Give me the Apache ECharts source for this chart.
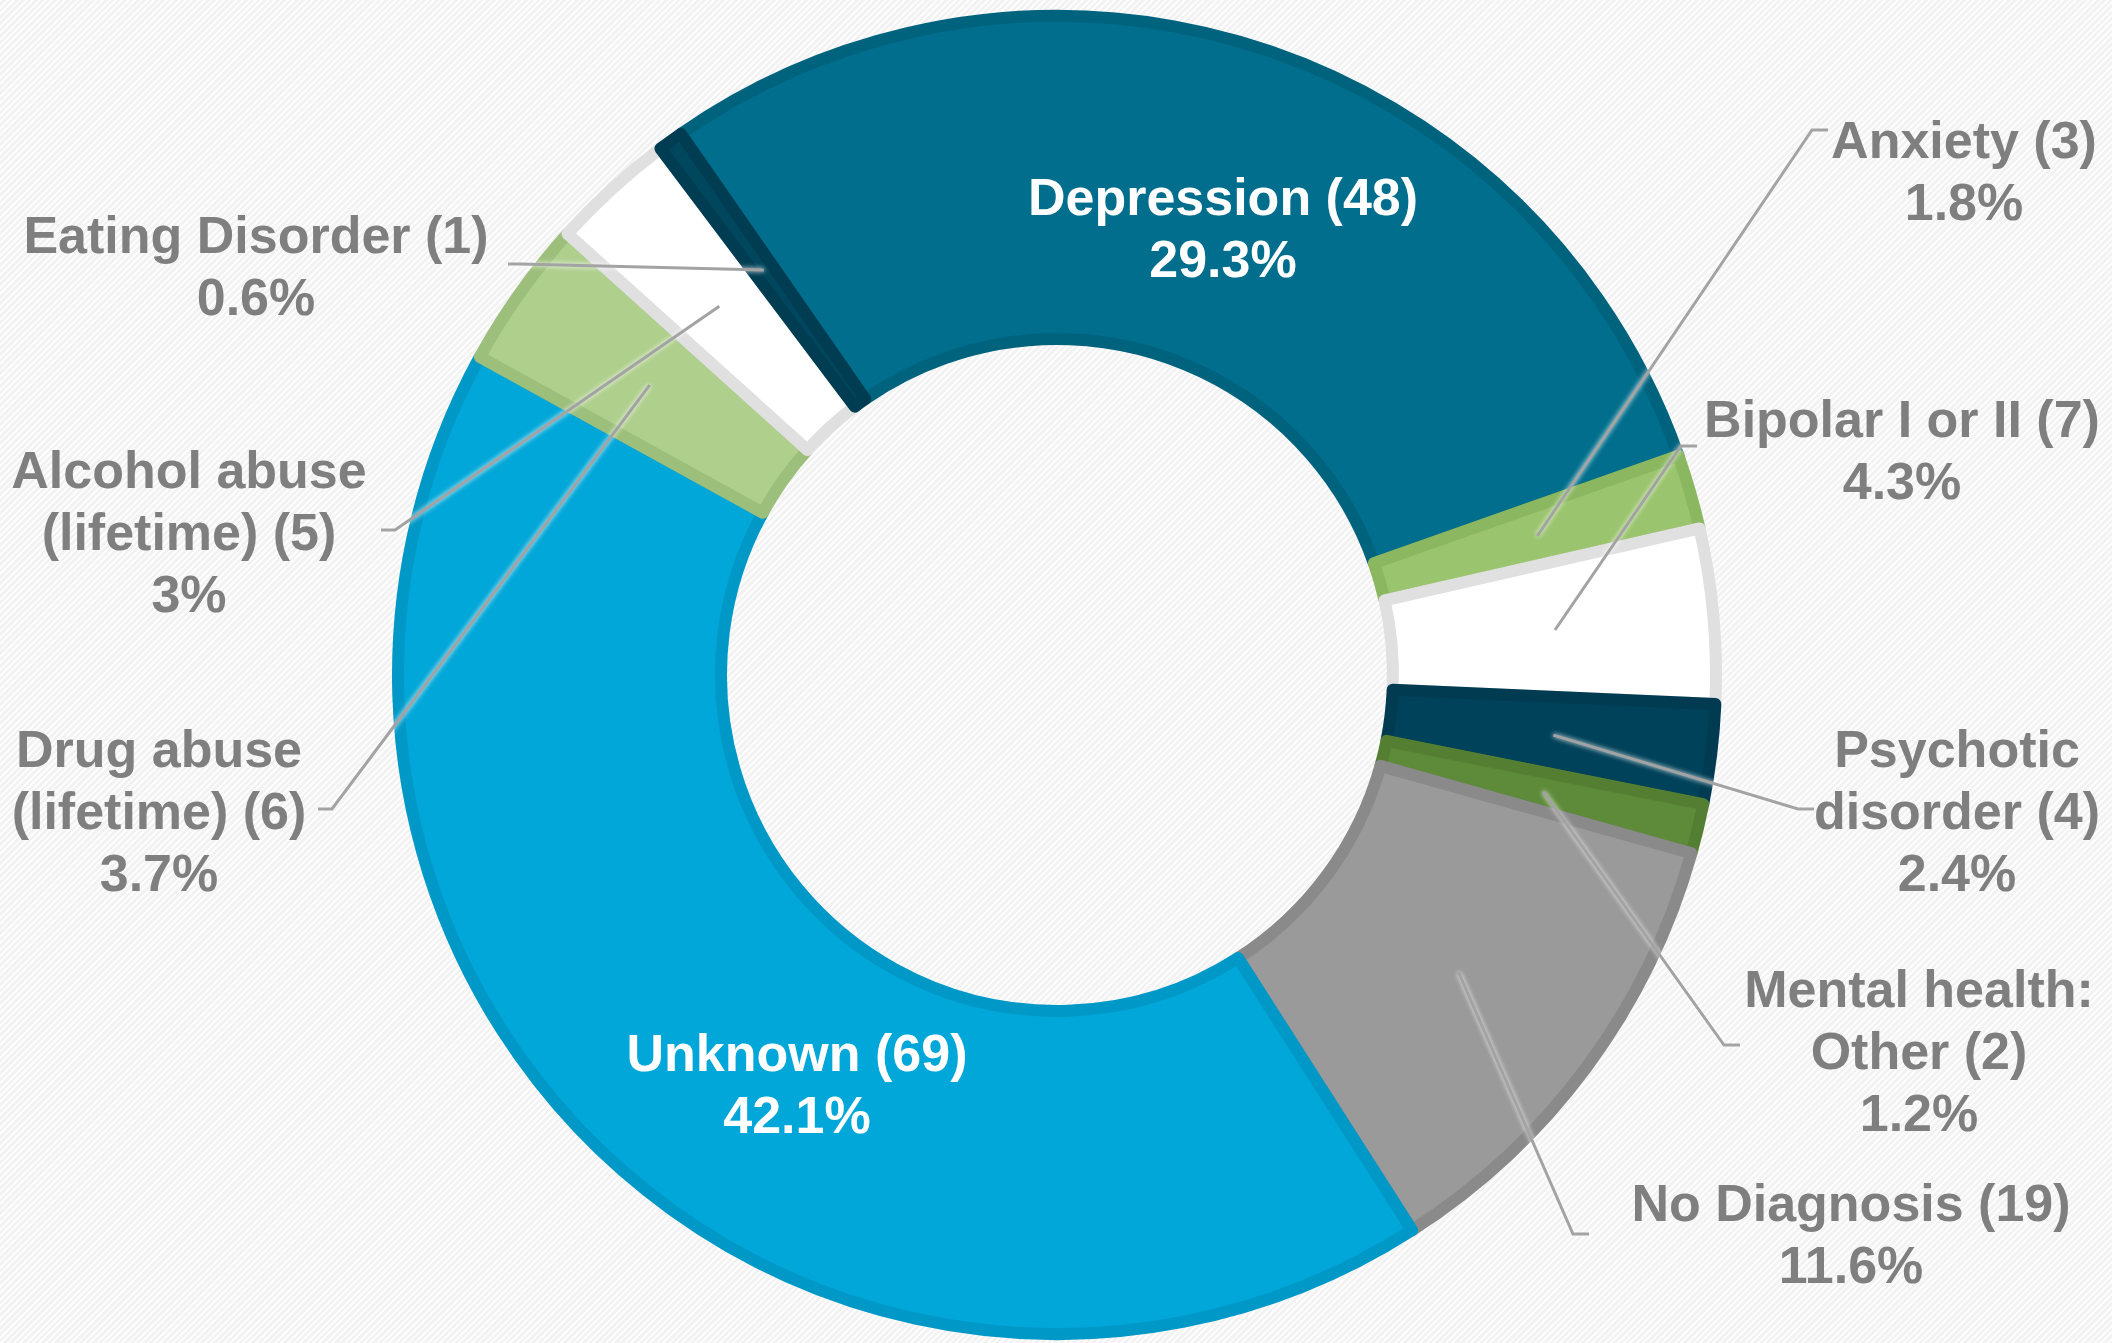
<!DOCTYPE html>
<html>
<head>
<meta charset="utf-8">
<script src="https://cdn.jsdelivr.net/npm/echarts@6/dist/echarts.min.js"></script>
<style>
  html, body { margin: 0; padding: 0; width: 2112px; height: 1343px; overflow: hidden; }
  body { background: repeating-linear-gradient(135deg, #fdfdfd 0px, #fdfdfd 2px, #f2f2f2 2px, #f2f2f2 4.5px); }
  #chart { width: 2112px; height: 1343px; }
</style>
</head>
<body>
<div id="chart"></div>
<script>
// Diagnosis categories (line breaks where the label wraps) and patient counts
const categories = [
  'Depression',
  'Anxiety',
  'Bipolar I or II',
  'Psychotic\ndisorder',
  'Mental health:\nOther',
  'No Diagnosis',
  'Unknown',
  'Drug abuse\n(lifetime)',
  'Alcohol abuse\n(lifetime)',
  'Eating Disorder'
];
const counts = [48, 3, 7, 4, 2, 19, 69, 6, 5, 1];

// Slice fills and their slightly darker edges
const fillColors = ['#006E8C', '#9BC46E', '#FFFFFF', '#00425A', '#5E8B3A', '#9A9A9A', '#00A7D8', '#AFCF8D', '#FFFFFF', '#00475E'];
const edgeColors = ['#00637E', '#8AB760', '#E0E0E0', '#003B51', '#547F33', '#8A8A8A', '#0099C7', '#9DBF7C', '#E0E0E0', '#003D52'];

// Labels drawn inside the ring (white text, no leader)
const insideLabels = [0, 6];

// Ring geometry
const CENTER = [1057, 675];
const INNER_R = 336;
const OUTER_R = 659;
const LEADER_R = 500;   // leaders start halfway across the ring
const EDGE_W = 12;

// Label placement: text block centre, leader elbow and tip
const labelSpots = [
  { x: 1223, y: 232 },
  { x: 1964, y: 175, elbow: [1812, 130], tip: [1828, 130] },
  { x: 1902, y: 454, elbow: [1681, 446], tip: [1697, 446] },
  { x: 1957, y: 815, elbow: [1798, 809], tip: [1814, 809] },
  { x: 1919, y: 1055, elbow: [1724, 1045], tip: [1740, 1045] },
  { x: 1851, y: 1238, elbow: [1573, 1234], tip: [1589, 1234] },
  { x: 797, y: 1088 },
  { x: 159, y: 815, elbow: [332, 809], tip: [318, 809] },
  { x: 189, y: 536, elbow: [395, 530], tip: [381, 530] },
  { x: 256, y: 270, elbow: [520, 264], tip: [508, 264] }
];

const FONT = '"Liberation Sans", Arial, Helvetica, sans-serif';

const ringData = categories.map((name, i) => ({
  name: name,
  value: counts[i],
  itemStyle: { color: fillColors[i], borderColor: edgeColors[i], borderWidth: EDGE_W }
}));

const labelData = categories.map((name, i) => {
  const inside = insideLabels.indexOf(i) >= 0;
  return {
    name: name,
    value: counts[i],
    label: { color: inside ? '#FFFFFF' : '#7F7F7F' },
    labelLine: { show: !inside }
  };
});

const chart = echarts.init(document.getElementById('chart'), null, { renderer: 'canvas' });

chart.setOption({
  animation: false,
  backgroundColor: 'transparent',
  series: [
    {
      type: 'pie',
      silent: true,
      center: CENTER,
      radius: [INNER_R, OUTER_R],
      startAngle: 124.8,
      clockwise: true,
      label: { show: false },
      labelLine: { show: false },
      emphasis: { disabled: true },
      data: ringData,
      z: 2
    },
    {
      // transparent twin that carries the labels and leader lines
      type: 'pie',
      silent: true,
      center: CENTER,
      radius: [INNER_R, LEADER_R],
      startAngle: 124.8,
      clockwise: true,
      percentPrecision: 1,
      avoidLabelOverlap: false,
      itemStyle: { color: 'rgba(0,0,0,0)', borderWidth: 0 },
      emphasis: { disabled: true },
      label: {
        show: true,
        position: 'outside',
        fontFamily: FONT,
        fontWeight: 'bold',
        fontSize: 52,
        lineHeight: 62,
        align: 'center',
        formatter: p => p.name + ' (' + p.value + ')\n' + p.percent + '%'
      },
      labelLine: {
        show: true,
        length: 10,
        length2: 10,
        lineStyle: {
          color: '#A3A3A3',
          width: 3,
          shadowColor: 'rgba(255,255,255,0.95)',
          shadowBlur: 5
        }
      },
      labelLayout: function (p) {
        const s = labelSpots[p.dataIndex];
        const out = { x: s.x, y: s.y, align: 'center', verticalAlign: 'middle', hideOverlap: false };
        if (s.tip && p.labelLinePoints && p.labelLinePoints.length) {
          out.labelLinePoints = [p.labelLinePoints[0], s.elbow, s.tip];
        }
        return out;
      },
      data: labelData,
      z: 3
    }
  ]
});
</script>
</body>
</html>
